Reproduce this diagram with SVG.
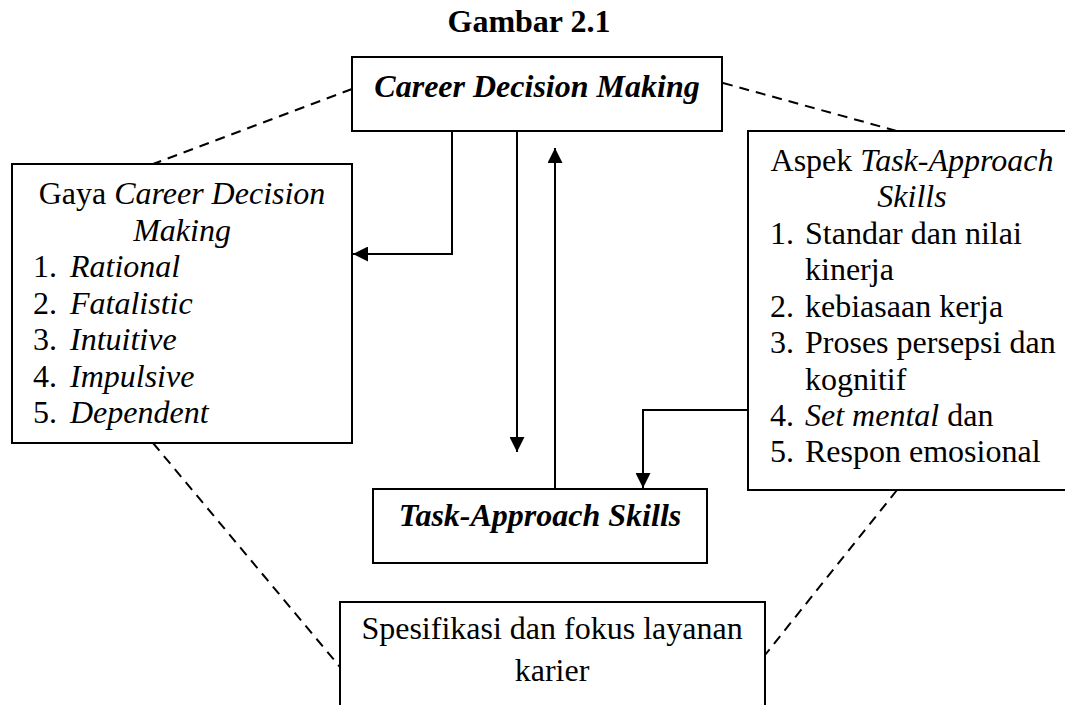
<svg xmlns="http://www.w3.org/2000/svg" width="1065" height="705" viewBox="0 0 1065 705">
  <defs>
    <marker id="arrow" viewBox="0 0 15 15" refX="15" refY="7.5" markerWidth="15" markerHeight="15" markerUnits="userSpaceOnUse" orient="auto">
      <path d="M0,0 L15,7.5 L0,15 Z" fill="#000"/>
    </marker>
    <style>
      text { font-family: "Liberation Serif", "Times New Roman", serif; font-size: 32px; fill: #000; }
      .b { font-weight: bold; }
      .i { font-style: italic; }
      .c { text-anchor: middle; }
      .box { fill: #fff; stroke: #000; stroke-width: 2; }
      .link { fill: none; stroke: #000; stroke-width: 2; }
      .dash { fill: none; stroke: #000; stroke-width: 2; stroke-dasharray: 10 7; }
    </style>
  </defs>
  <rect width="1065" height="705" fill="#fff"/>

  <text class="b c" x="529" y="32">Gambar 2.1</text>

  <!-- connectors -->
  <g id="connectors">
    <line class="dash" x1="352" y1="89" x2="153" y2="164"/>
    <line class="dash" x1="723" y1="83" x2="897" y2="131"/>
    <line class="dash" x1="153" y1="443" x2="340" y2="667"/>
    <line class="dash" x1="897" y1="490" x2="765" y2="655"/>
    <polyline class="link" points="452,131 452,254 353,254" marker-end="url(#arrow)"/>
    <line class="link" x1="517" y1="131" x2="517" y2="452" marker-end="url(#arrow)"/>
    <line class="link" x1="555" y1="489" x2="555" y2="148" marker-end="url(#arrow)"/>
    <polyline class="link" points="748,410 643,410 643,488" marker-end="url(#arrow)"/>
  </g>

  <g id="node-cdm">
    <rect class="box" x="352" y="57" width="370" height="74"/>
    <text class="b i c" x="537" y="97">Career Decision Making</text>
  </g>

  <g id="node-gaya">
    <rect class="box" x="12" y="164" width="340" height="279"/>
    <text class="c" x="182" y="204">Gaya <tspan class="i">Career Decision</tspan></text>
    <text class="i c" x="182" y="241">Making</text>
    <text x="33" y="277">1.<tspan class="i" x="70">Rational</tspan></text>
    <text x="33" y="314">2.<tspan class="i" x="70">Fatalistic</tspan></text>
    <text x="33" y="350">3.<tspan class="i" x="70">Intuitive</tspan></text>
    <text x="33" y="387">4.<tspan class="i" x="70">Impulsive</tspan></text>
    <text x="33" y="423">5.<tspan class="i" x="70">Dependent</tspan></text>
  </g>

  <g id="node-aspek">
    <rect class="box" x="748" y="131" width="330" height="359"/>
    <text class="c" x="912" y="171">Aspek <tspan class="i">Task-Approach</tspan></text>
    <text class="i c" x="912" y="207">Skills</text>
    <text x="770" y="244">1.<tspan x="805">Standar dan nilai</tspan></text>
    <text x="805" y="280">kinerja</text>
    <text x="770" y="317">2.<tspan x="805">kebiasaan kerja</tspan></text>
    <text x="770" y="353">3.<tspan x="805">Proses persepsi dan</tspan></text>
    <text x="805" y="390">kognitif</text>
    <text x="770" y="426">4.<tspan class="i" x="805">Set mental</tspan> dan</text>
    <text x="770" y="462">5.<tspan x="805">Respon emosional</tspan></text>
  </g>

  <g id="node-tas">
    <rect class="box" x="373" y="489" width="334" height="74"/>
    <text class="b i c" x="540" y="526">Task-Approach Skills</text>
  </g>

  <g id="node-spesifikasi">
    <rect class="box" x="340" y="602" width="425" height="120"/>
    <text class="c" x="552" y="639">Spesifikasi dan fokus layanan</text>
    <text class="c" x="552" y="681">karier</text>
  </g>
</svg>
